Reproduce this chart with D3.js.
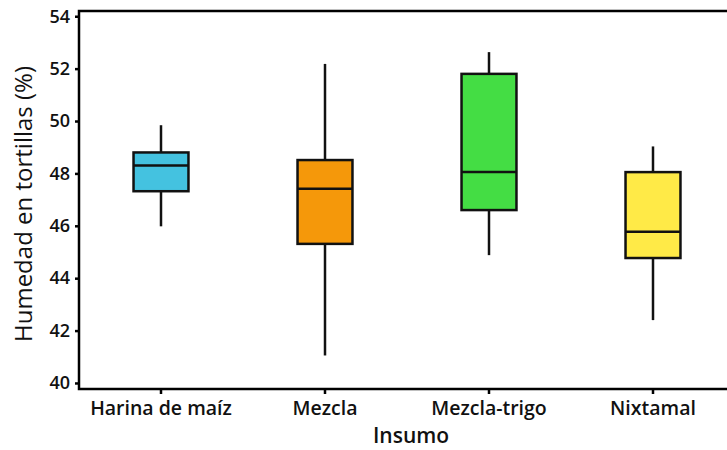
<!DOCTYPE html>
<html>
<head>
<meta charset="utf-8">
<script src="https://cdn.jsdelivr.net/npm/d3@7"></script>
<style>
  body { margin: 0; background: #fff; }
  svg { display: block; font-family: "Open Sans", sans-serif; }
</style>
</head>
<body>
<div class="chart"></div>
<script>
const categories = ["Harina de maíz", "Mezcla", "Mezcla-trigo", "Nixtamal"];
const whiskerLow = [45.98, 41.05, 44.88, 42.40];
const q1 = [47.32, 45.31, 46.60, 44.77];
const median = [48.30, 47.41, 48.05, 45.77];
const q3 = [48.80, 48.51, 51.80, 48.05];
const whiskerHigh = [49.84, 52.18, 52.63, 49.03];
const colors = ["#44c2e0", "#f5980a", "#44dd44", "#ffea47"];
const yTicks = [40, 42, 44, 46, 48, 50, 52, 54];

const WIDTH = 727, HEIGHT = 450;
const margin = {left: 79, right: -8, top: 11, bottom: 61};

const boxes = categories.map((c, i) => ({
  name: c, lo: whiskerLow[i], q1: q1[i], med: median[i], q3: q3[i], hi: whiskerHigh[i], color: colors[i]
}));

const svg = d3.select(".chart").append("svg")
  .attr("width", WIDTH)
  .attr("height", HEIGHT);

const x = d3.scaleBand()
  .domain(categories)
  .range([margin.left, WIDTH - margin.right]);

const y = d3.scaleLinear()
  .domain([39.77, 54.2])
  .range([HEIGHT - margin.bottom, margin.top]);

const boxW = x.bandwidth() * 0.335;

// panel frame
svg.append("rect")
  .attr("x", margin.left)
  .attr("y", margin.top)
  .attr("width", WIDTH - margin.right - margin.left)
  .attr("height", HEIGHT - margin.bottom - margin.top)
  .attr("fill", "none")
  .attr("stroke", "#000")
  .attr("stroke-width", 2.5);

const g = svg.selectAll("g.box").data(boxes).enter().append("g")
  .attr("class", "box")
  .attr("transform", d => `translate(${x(d.name) + x.bandwidth() / 2},0)`);

// whiskers
g.append("line")
  .attr("x1", 0).attr("x2", 0)
  .attr("y1", d => y(d.hi)).attr("y2", d => y(d.q3))
  .attr("stroke", "#111").attr("stroke-width", 2.5);
g.append("line")
  .attr("x1", 0).attr("x2", 0)
  .attr("y1", d => y(d.q1)).attr("y2", d => y(d.lo))
  .attr("stroke", "#111").attr("stroke-width", 2.5);

g.append("rect")
  .attr("x", -boxW / 2)
  .attr("y", d => y(d.q3))
  .attr("width", boxW)
  .attr("height", d => y(d.q1) - y(d.q3))
  .attr("fill", d => d.color)
  .attr("stroke", "#111")
  .attr("stroke-width", 2.5);

g.append("line")
  .attr("x1", -boxW / 2).attr("x2", boxW / 2)
  .attr("y1", d => y(d.med)).attr("y2", d => y(d.med))
  .attr("stroke", "#111").attr("stroke-width", 2.5);

// axes
const yAxis = svg.append("g")
  .attr("transform", `translate(${margin.left},0)`)
  .call(d3.axisLeft(y).tickValues(yTicks).tickSize(4).tickPadding(5));
const xAxis = svg.append("g")
  .attr("transform", `translate(0,${HEIGHT - margin.bottom})`)
  .call(d3.axisBottom(x).tickSize(5).tickPadding(7));

[yAxis, xAxis].forEach(a => {
  a.select(".domain").remove();
  a.selectAll(".tick line").attr("stroke", "#000").attr("stroke-width", 2.5);
  a.selectAll(".tick text")
    .attr("fill", "#111")
    .style("font-weight", 600)
    .style("font-family", "'Open Sans', sans-serif");
});
yAxis.selectAll(".tick text").style("font-size", "18px");
xAxis.selectAll(".tick text").style("font-size", "19.5px");

svg.append("text")
  .attr("x", 411)
  .attr("y", 443)
  .attr("text-anchor", "middle")
  .style("font-size", "21px")
  .style("font-weight", 600)
  .attr("fill", "#111")
  .text("Insumo");

svg.append("text")
  .attr("transform", `translate(32,204) rotate(-90)`)
  .attr("text-anchor", "middle")
  .style("font-size", "24px")
  .style("font-weight", 500)
  .attr("fill", "#111")
  .text("Humedad en tortillas (%)");
</script>
</body>
</html>
